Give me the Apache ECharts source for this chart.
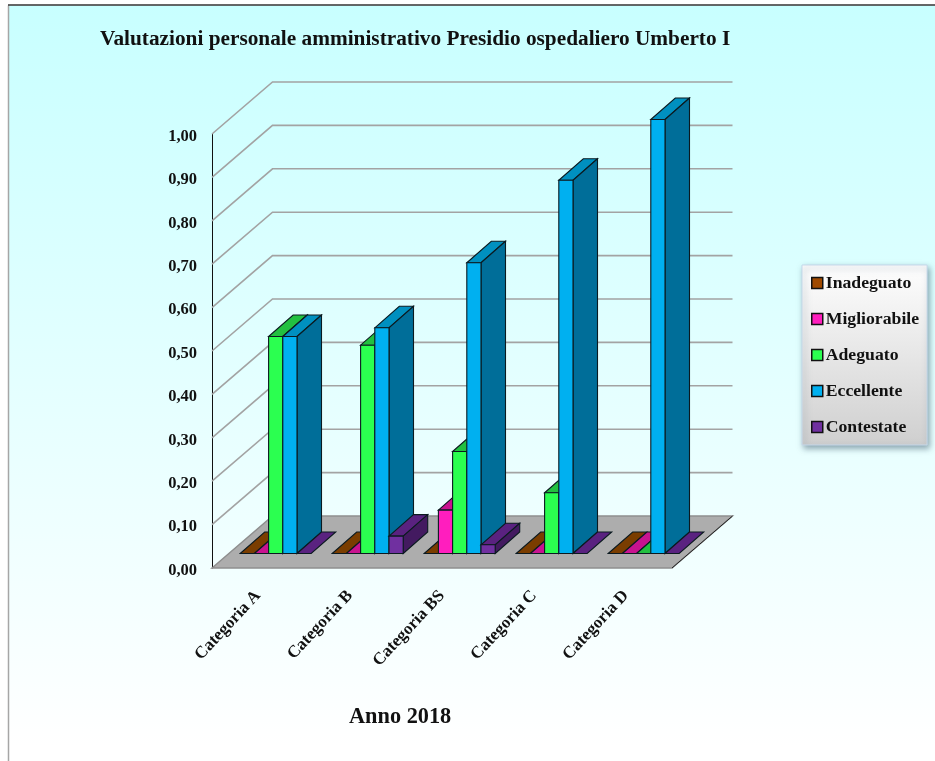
<!DOCTYPE html>
<html>
<head>
<meta charset="utf-8">
<title>Valutazioni personale amministrativo</title>
<style>
  html, body { margin: 0; padding: 0; background: #fff; }
  #chart { width: 935px; height: 761px; }
</style>
<script src="https://cdn.jsdelivr.net/npm/echarts@6/dist/echarts.min.js"></script>
</head>
<body>
<div id="chart"></div>
<script>
var categories = ['Categoria A', 'Categoria B', 'Categoria BS', 'Categoria C', 'Categoria D'];
var inadeguato = [0, 0, 0, 0, 0];
var migliorabile = [0, 0, 0.10, 0, 0];
var adeguato = [0.50, 0.48, 0.235, 0.14, 0];
var eccellente = [0.50, 0.52, 0.67, 0.86, 1.00];
var contestate = [0, 0.04, 0.02, 0, 0];
var yTicks = [0, 0.1, 0.2, 0.3, 0.4, 0.5, 0.6, 0.7, 0.8, 0.9, 1];

var FONT = '"Liberation Serif", serif';
var WALL_DX = 60.5, WALL_DY = 52;     // floor depth
var BASE_DX = 17.7, BASE_DY = 14.5;   // where the bars stand on the floor
var BAR_DX = 24.5, BAR_DY = 21.5;     // bar depth
var BAR_W = 14.2;

function wallLine(params, api) {
  var cs = params.coordSys;
  var p = api.coord([0, api.value(0)]);
  var x = cs.x;
  return {
    type: 'polyline',
    shape: { points: [[x, p[1]], [x + WALL_DX, p[1] - WALL_DY], [x + cs.width + WALL_DX, p[1] - WALL_DY]] },
    style: { fill: null, stroke: '#a3a3a3', lineWidth: 1.6 }
  };
}

function floor(params) {
  var cs = params.coordSys;
  var y = cs.y + cs.height, x = cs.x, w = cs.width;
  return {
    type: 'group',
    children: [{
      type: 'polygon',
      shape: { points: [[x, y], [x + WALL_DX, y - WALL_DY], [x + w + WALL_DX, y - WALL_DY], [x + w, y]] },
      style: { fill: '#adadad', stroke: '#8e8e8e', lineWidth: 1.4 }
    }, {
      type: 'line',
      shape: { x1: x + w, y1: y, x2: x + w + WALL_DX, y2: y - WALL_DY },
      style: { stroke: '#222', lineWidth: 1 }
    }]
  };
}

function barSeries(name, values, slot, colors) {
  return {
    name: name,
    type: 'custom',
    coordinateSystem: 'cartesian2d',
    itemStyle: { color: colors.front, borderColor: '#000', borderWidth: 1 },
    z: 5,
    silent: true,
    data: values.map(function (v, i) { return [i, v]; }),
    renderItem: function (params, api) {
      var top = api.coord([api.value(0), api.value(1)]);
      var bottom = api.coord([api.value(0), 0]);
      var x0 = top[0] + BASE_DX + (slot - 2.5) * BAR_W;
      var x1 = x0 + BAR_W;
      var yb = bottom[1] - BASE_DY;
      var yt = top[1] - BASE_DY;
      function face(points, fill) {
        return { type: 'polygon', shape: { points: points }, style: { fill: fill, stroke: '#0b1a20', lineWidth: 1.1 } };
      }
      var kids = [
        face([[x0, yt], [x0 + BAR_DX, yt - BAR_DY], [x1 + BAR_DX, yt - BAR_DY], [x1, yt]], colors.top)
      ];
      if (api.value(1) > 0) {
        kids.push(face([[x1, yb], [x1 + BAR_DX, yb - BAR_DY], [x1 + BAR_DX, yt - BAR_DY], [x1, yt]], colors.side));
        kids.push(face([[x0, yb], [x1, yb], [x1, yt], [x0, yt]], colors.front));
      }
      return { type: 'group', children: kids };
    }
  };
}

var chart = echarts.init(document.getElementById('chart'));
chart.setOption({
  animation: false,
  backgroundColor: '#fff',
  graphic: [{
    type: 'rect',
    z: -10,
    shape: { x: 8.5, y: 5.5, width: 940, height: 740 },
    style: {
      fill: new echarts.graphic.LinearGradient(0, 0, 0, 1, [
        { offset: 0, color: '#c8ffff' },
        { offset: 1, color: '#ffffff' }
      ]),
      stroke: null
    }
  }, {
    type: 'line', z: -9,
    shape: { x1: 8.5, y1: 5.5, x2: 8.5, y2: 761 },
    style: { stroke: '#a6a6a6', lineWidth: 1.5 }
  }, {
    type: 'line', z: -9,
    shape: { x1: 8, y1: 5, x2: 935, y2: 5 },
    style: { stroke: '#333', lineWidth: 1.5 }
  }],
  title: [{
    text: 'Valutazioni personale amministrativo Presidio ospedaliero Umberto I',
    left: 100, top: 29, padding: 0,
    textStyle: { fontFamily: FONT, fontSize: 21.3, fontWeight: 'bold', color: '#111' }
  }, {
    text: 'Anno 2018',
    left: 349, top: 706, padding: 0,
    textStyle: { fontFamily: FONT, fontSize: 22.3, fontWeight: 'bold', color: '#111' }
  }],
  legend: {
    left: 802, top: 265,
    orient: 'vertical',
    padding: [9, 8, 9, 9],
    itemGap: 18,
    itemWidth: 11, itemHeight: 11,
    icon: 'rect',
    data: ['Inadeguato', 'Migliorabile', 'Adeguato', 'Eccellente', 'Contestate'],
    selectedMode: false,
    itemStyle: { borderColor: '#111', borderWidth: 1.5 },
    backgroundColor: new echarts.graphic.LinearGradient(0, 0, 0, 1, [
      { offset: 0, color: '#fefefe' },
      { offset: 1, color: '#cfcfcf' }
    ]),
    borderColor: '#c5d8ea', borderWidth: 1,
    shadowColor: 'rgba(60,90,110,0.55)', shadowBlur: 6, shadowOffsetX: 2, shadowOffsetY: 3,
    textStyle: { fontFamily: FONT, fontSize: 17.7, fontWeight: 'bold', color: '#111', padding: [0, 0, 0, -2] }
  },
  grid: { left: 212, top: 134, width: 460, height: 434, containLabel: false },
  xAxis: {
    type: 'category',
    data: categories,
    axisLine: { show: false },
    axisTick: { show: false },
    axisLabel: { rotate: 47, margin: 25, interval: 0, fontFamily: FONT, fontSize: 17, fontWeight: 'bold', color: '#111' }
  },
  yAxis: {
    type: 'value',
    min: 0, max: 1, interval: 0.1,
    splitLine: { show: false },
    axisLine: { show: true, onZero: false, lineStyle: { color: '#111', width: 1 } },
    axisTick: { show: false },
    axisLabel: {
      margin: 15,
      rich: { t: { padding: [5, 0, 0, 0], fontFamily: FONT, fontSize: 16.5, fontWeight: 'bold', color: '#111' } },
      formatter: function (v) { return '{t|' + v.toFixed(2).replace('.', ',') + '}'; }
    }
  },
  series: [
    { type: 'custom', name: 'pavimento', silent: true, z: 1, data: [[0, 0]], renderItem: floor },
    { type: 'custom', name: 'griglia', silent: true, z: 2, data: yTicks.slice(1).map(function (t) { return [t]; }), encode: { y: 0 }, renderItem: wallLine },
    barSeries('Inadeguato', inadeguato, 0, { front: '#a04a00', top: '#7a3d00', side: '#5e2f00' }),
    barSeries('Migliorabile', migliorabile, 1, { front: '#ff1ebe', top: '#c8138f', side: '#a00f72' }),
    barSeries('Adeguato', adeguato, 2, { front: '#2bff50', top: '#22c040', side: '#1a9a32' }),
    barSeries('Eccellente', eccellente, 3, { front: '#00b0f0', top: '#0090c0', side: '#006e99' }),
    barSeries('Contestate', contestate, 4, { front: '#7030a0', top: '#5a2280', side: '#431a60' })
  ]
});
</script>
</body>
</html>
